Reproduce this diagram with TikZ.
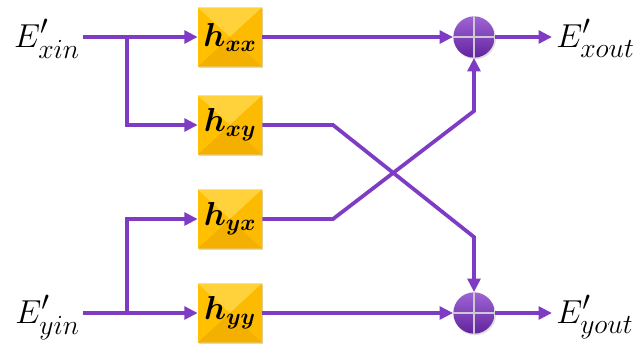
\documentclass[tikz,border=0pt]{standalone}
\usepackage{amsmath,bm}
\usetikzlibrary{arrows.meta,shadows,calc}
\definecolor{wire}{RGB}{126,60,196}
\definecolor{gold}{RGB}{255,192,0}
\definecolor{goldlight}{RGB}{255,210,60}
\definecolor{golddark}{RGB}{244,176,0}
\definecolor{goldside}{RGB}{252,186,0}
\definecolor{crossbar}{RGB}{205,200,212}
\tikzset{
  wirepath/.style={draw=wire, line width=2.8pt, -{Triangle[length=10pt,width=9.5pt]}},
  lbl/.style={font=\fontsize{28}{31}\selectfont, inner sep=0pt},
  hbox/.style={minimum width=48pt, minimum height=44pt, inner sep=0pt, fill=gold,
    drop shadow={opacity=0.3, shadow xshift=1pt, shadow yshift=-1.2pt}},
  htext/.style={font=\fontsize{23}{26}\selectfont, inner sep=0pt},
  sumnode/.style={circle, minimum size=31pt, inner sep=0pt,
    top color={rgb,255:red,158;green,100;blue,212}, bottom color={rgb,255:red,98;green,36;blue,158},
    drop shadow={opacity=0.25, shadow xshift=1pt, shadow yshift=-1.2pt}},
  crossline/.style={draw=crossbar, line width=2.2pt}
}
\begin{document}
\begin{tikzpicture}[x=0.75pt, y=-0.75pt]
  \useasboundingbox (0,0) rectangle (643,347);

  % input and output labels
  \node[lbl, anchor=base east] (xin) at (80,47) {$E'_{xin}$};
  \node[lbl, anchor=base east] (yin) at (80,323) {$E'_{yin}$};
  \node[lbl, anchor=base west] (xout) at (556,47) {$E'_{xout}$};
  \node[lbl, anchor=base west] (yout) at (556,323) {$E'_{yout}$};

  % filter taps: gold boxes with a pyramid bevel
  \node[hbox] (hxx) at (230,37)  {};
  \node[hbox] (hxy) at (230,125) {};
  \node[hbox] (hyx) at (230,219) {};
  \node[hbox] (hyy) at (230,313) {};
  \foreach \b in {hxx,hxy,hyx,hyy} {
    \fill[goldlight] (\b.north west) -- (\b.north east) -- (\b.center) -- cycle;
    \fill[golddark] (\b.south west) -- (\b.south east) -- (\b.center) -- cycle;
    \fill[goldside] (\b.north east) -- (\b.south east) -- (\b.center) -- cycle;
  }
  \node[htext] (txx) at (hxx.center) {$\boldsymbol{h}_{\boldsymbol{xx}}$};
  \node[htext] (txy) at (hxy.center) {$\boldsymbol{h}_{\boldsymbol{xy}}$};
  \node[htext] (tyx) at (hyx.center) {$\boldsymbol{h}_{\boldsymbol{yx}}$};
  \node[htext] (tyy) at (hyy.center) {$\boldsymbol{h}_{\boldsymbol{yy}}$};

  % adders
  \node[sumnode] (s1) at (474,37)  {};
  \node[sumnode] (s2) at (474,313) {};
  \foreach \s in {s1,s2} {
    \draw[crossline] (\s.north) -- (\s.south);
    \draw[crossline] (\s.west) -- (\s.east);
  }

  % routing points
  \coordinate (inx) at (83,37);
  \coordinate (iny) at (83,313);
  \coordinate (bx) at (127,37);
  \coordinate (by) at (127,313);
  \coordinate (c1) at (333,125);
  \coordinate (c2) at (474,237);
  \coordinate (c3) at (333,219);
  \coordinate (c4) at (474,111);
  \coordinate (ox) at (552,37);
  \coordinate (oy) at (552,313);

  % x input fan-out
  \draw[wirepath] (inx) -- (hxx.west);
  \draw[wirepath] (bx) |- (hxy.west);
  % y input fan-out
  \draw[wirepath] (iny) -- (hyy.west);
  \draw[wirepath] (by) |- (hyx.west);

  % tap outputs to adders
  \draw[wirepath] (hxx.east) -- (s1.west);
  \draw[wirepath] (hyy.east) -- (s2.west);
  \draw[wirepath] (hxy.east) -- (c1) -- (c2) -- (s2.north);
  \draw[wirepath] (hyx.east) -- (c3) -- (c4) -- (s1.south);

  % adder outputs
  \draw[wirepath] (s1.east) -- (ox);
  \draw[wirepath] (s2.east) -- (oy);
\end{tikzpicture}
\end{document}
